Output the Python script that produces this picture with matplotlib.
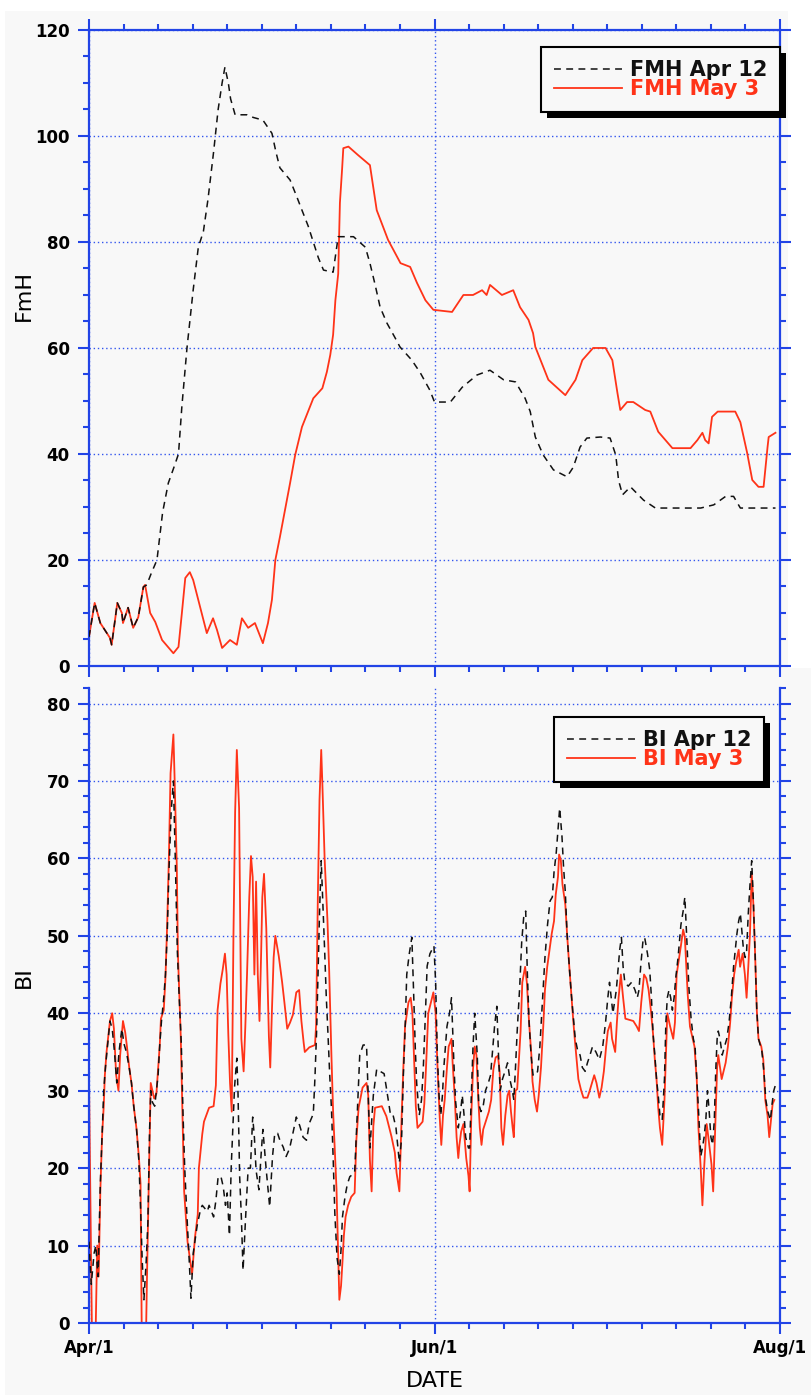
import numpy as np
import matplotlib
matplotlib.use("Agg")
import matplotlib.pyplot as plt
from matplotlib.patches import Rectangle
from matplotlib.ticker import MultipleLocator, FixedLocator
from matplotlib.transforms import IdentityTransform

# x = days since Apr 1
date_ticks = [0, 61, 122]
date_labels = ["Apr/1", "Jun/1", "Aug/1"]

# fine moisture (FmH), two model runs: (day, value)
fmh_apr12 = np.array([
    (0, 5.5), (1, 11.9), (2, 8.1), (3.7, 5.3), (4, 4.0), (4.6, 8.7), (5, 11.9),
    (5.8, 10.0), (6, 8.1), (6.9, 11.0), (7.8, 7.2), (8.7, 9.2), (9.6, 14.9),
    (10.2, 15.3), (11, 17.5), (12, 20), (13, 29), (14, 34.5), (15, 37.5),
    (15.8, 40), (16.4, 49), (17.3, 60), (18.4, 71), (19.3, 79), (20.2, 82),
    (21, 88), (22, 97), (22.8, 105), (23.5, 110), (24, 113), (24.6, 110),
    (25, 107), (25.8, 104), (27.9, 104), (29, 103.5), (30.7, 103), (32.3, 100.5),
    (33, 97), (33.7, 94), (35.5, 91.7), (36.7, 88.5), (37.6, 86), (38.7, 83),
    (39.6, 80), (40.5, 77), (41.4, 74.7), (43.1, 74.3), (44, 81), (46.7, 81),
    (48.8, 79), (49.6, 76), (50.5, 72), (51.4, 67.7), (52.6, 64.7), (54, 62),
    (54.9, 60.2), (57, 57.7), (58.5, 55.3), (60.2, 52), (61, 49.8), (63.8, 49.8),
    (65.9, 52.6), (68.5, 54.9), (70.8, 55.8), (73.2, 54), (75.3, 53.6), (77, 50.5),
    (77.9, 48), (78.8, 43.2), (80.2, 39.8), (82, 37), (84.4, 35.7), (85.5, 37.5),
    (86.7, 41.3), (87.9, 43), (90.3, 43.2), (92, 43), (93, 39.8), (93.5, 35),
    (94.2, 32.3), (95.6, 33.8), (97.9, 31.3), (100, 29.8), (108, 29.8),
    (110.3, 30.4), (112.4, 32), (113.8, 32), (115, 29.8), (121.2, 29.8),
])

fmh_may3 = np.array([
    (0, 5.5), (1, 11.9), (2, 8.1), (3.7, 5.3), (4, 4.0), (4.6, 8.7), (5, 11.9),
    (5.8, 10.0), (6, 8.1), (6.9, 11.0), (7.8, 7.2), (8.7, 9.2), (9.6, 14.9),
    (9.9, 15.3), (10.8, 10), (11.7, 8.3), (12.9, 4.9), (14.9, 2.4), (15.8, 3.6),
    (16.4, 10), (17, 16.6), (17.8, 17.7), (18.4, 16.2), (19.6, 11.2), (20.8, 6.2),
    (21.9, 9), (22.6, 6.8), (23.5, 3.4), (24.9, 4.9), (26.1, 4), (27, 9),
    (28.1, 7.2), (29.3, 8.1), (30.7, 4.3), (31.6, 8.1), (32.3, 12.5), (32.9, 20),
    (33.7, 24.3), (34.6, 29.4), (35.5, 34.5), (36.4, 39.8), (37.6, 45.1),
    (39.6, 50.5), (41.2, 52.4), (42, 55.5), (42.6, 58.7), (43.1, 62.5), (43.5, 69),
    (44, 74), (44.3, 87.4), (44.7, 94), (44.9, 97.7), (45.8, 98), (47.5, 96.4),
    (49.6, 94.5), (50.8, 86), (52.8, 80.4), (55, 76), (56.7, 75.3), (57.9, 72.3),
    (59.4, 69), (60.8, 67.2), (64.1, 66.8), (66.1, 70), (67.8, 70), (69.4, 70.9),
    (70.2, 70), (70.8, 71.9), (72.9, 70), (74.9, 70.9), (76.1, 67.7), (77.6, 65.3),
    (78.4, 62.8), (78.8, 60.2), (81.1, 54), (84.1, 51.1), (85.9, 54), (87.1, 57.7),
    (89, 60), (91.2, 60), (92.4, 57.7), (93.3, 51.5), (93.8, 48.3), (95, 49.8),
    (96.1, 49.8), (98.2, 48.3), (99.1, 48), (100.5, 44.2), (103, 41.1),
    (106.2, 41.1), (107.4, 42.6), (108.3, 44), (108.8, 42.6), (109.4, 42),
    (110, 47), (111, 48), (114.1, 48), (115, 46), (116.2, 40.2), (117.1, 35.1),
    (118.2, 33.8), (119.1, 33.8), (119.8, 41.3), (120, 43.2), (121.2, 44),
])

# burning index (BI), two model runs: (day, value)
bi_apr12 = np.array([
    (0, 10.5), (0.4, 5), (0.9, 9), (1.2, 10), (1.6, 6), (2.0, 18), (2.3, 24),
    (2.6, 30), (2.9, 33), (3.3, 36), (3.7, 39), (4.1, 38), (4.5, 35), (4.9, 31),
    (5.3, 35), (5.8, 38), (6.2, 36), (6.6, 35), (7.1, 33), (7.5, 31), (7.9, 28),
    (8.4, 25), (8.8, 21), (9.1, 15), (9.4, 8), (9.7, 3), (10.1, 8), (10.4, 13),
    (10.7, 25), (10.9, 30), (11.2, 28.5), (11.6, 28), (11.9, 30), (12.2, 32),
    (12.5, 36), (12.8, 39), (13.2, 42), (13.5, 45), (13.8, 50), (14.1, 58),
    (14.5, 66), (14.9, 70), (15.2, 61), (15.6, 48), (15.9, 42.5), (16.3, 36),
    (16.6, 27), (16.9, 20), (17.3, 13.7), (17.7, 8), (18.0, 3.2), (18.4, 9),
    (19.1, 12.6), (19.7, 14.7), (20.0, 15.2), (20.9, 14.4), (21.2, 15.2),
    (22.0, 13.7), (22.4, 15.8), (22.8, 18.9), (23.3, 18.9), (23.7, 17.6),
    (24.1, 15.2), (24.4, 16.8), (24.8, 11.3), (25.1, 20), (25.4, 25.3),
    (25.7, 30.5), (26.1, 34.2), (26.3, 30), (26.6, 18.9), (26.9, 13.7),
    (27.2, 6.8), (27.6, 12.9), (28.1, 20), (28.5, 20), (28.9, 26.6), (29.2, 24),
    (29.5, 19.7), (30.0, 17.2), (30.4, 21.9), (30.7, 25), (31.3, 19.7),
    (31.9, 15), (32.4, 21.5), (32.8, 24.5), (33.3, 24.5), (33.7, 23.6),
    (34.3, 22.7), (34.8, 21.5), (35.4, 22.5), (36.0, 24.5), (36.6, 26.6),
    (37.2, 25.5), (37.8, 24), (38.4, 23.6), (38.9, 25.8), (39.6, 27), (39.9, 31.8),
    (40.2, 38), (40.4, 44), (40.7, 53), (41.0, 59.7), (41.3, 54), (41.6, 48.2),
    (41.9, 42), (42.2, 37.2), (42.5, 32), (42.8, 27.8), (43.1, 21.5), (43.4, 14.2),
    (43.8, 8.4), (44.2, 6.3), (44.5, 9.5), (44.75, 13.7), (45.2, 16.3),
    (45.6, 17.9), (46.05, 18.9), (46.9, 19.4), (47.35, 26.8), (47.8, 34.6),
    (48.4, 35.9), (49.0, 35.9), (49.3, 29.4), (49.6, 22.6), (50.2, 29.4),
    (50.8, 32.8), (51.4, 32.5), (52.1, 32.2), (52.5, 30.4), (53.25, 26.8),
    (53.7, 26.8), (54.2, 25.2), (54.8, 20.7), (55.2, 24), (55.5, 32), (55.8, 37.7),
    (56.1, 45), (56.55, 47.7), (57.0, 49.8), (57.3, 43), (57.6, 35.7), (57.85, 31),
    (58.3, 26.8), (58.7, 28.8), (59.0, 32.5), (59.4, 40), (59.7, 46.1),
    (60.2, 47.7), (60.9, 48.7), (61.2, 44), (61.5, 34.6), (61.8, 29.4),
    (62.1, 26.8), (62.4, 29.4), (62.65, 33), (63.2, 38.3), (63.65, 40), (64.0, 42),
    (64.2, 38), (64.4, 34), (64.7, 28.8), (65.2, 25.2), (65.6, 27.3), (65.9, 29.4),
    (66.2, 27), (66.5, 24), (67.0, 22.6), (67.2, 22.6), (67.5, 29.4), (67.8, 35.7),
    (68.1, 40), (68.55, 34.6), (68.8, 28.3), (69.2, 27.3), (69.55, 27.8),
    (70.0, 30), (70.5, 31), (70.9, 32), (71.3, 35.7), (71.6, 38.3), (72.0, 40.9),
    (72.3, 34.6), (72.6, 30), (73.0, 31.5), (73.45, 32.5), (73.9, 33.6),
    (74.3, 31.5), (74.75, 30), (75.0, 28.8), (75.3, 33), (75.6, 37.7),
    (76.05, 43.5), (76.4, 49.3), (76.75, 52.4), (77.1, 53.2), (77.4, 45),
    (77.7, 38.8), (78.05, 34.6), (78.4, 32), (78.9, 32), (79.2, 32.5), (79.6, 35.7),
    (80.1, 42), (80.5, 47.2), (80.95, 51.4), (81.4, 54.5), (81.8, 55), (82.1, 58.2),
    (82.5, 60.8), (82.9, 64.5), (83.1, 66.5), (83.5, 62.9), (83.8, 58.7),
    (84.1, 55.6), (84.4, 50.3), (84.8, 46), (85.1, 43), (85.4, 40.4), (85.85, 36.7),
    (86.3, 35.1), (86.7, 34.6), (87.1, 33), (87.6, 32.5), (88.0, 33.6),
    (88.45, 34.6), (88.9, 35.7), (89.5, 35), (90.1, 34), (90.7, 35.7), (91.2, 38.8),
    (91.6, 42), (91.9, 44), (92.5, 40), (93.1, 43), (93.7, 48.2), (94.0, 49.8),
    (94.3, 46), (94.6, 44), (95.2, 43.5), (95.8, 44), (96.4, 43), (96.8, 42),
    (97.1, 43), (97.4, 46), (97.8, 49.3), (98.1, 49.8), (98.6, 47.7), (99.0, 45.6),
    (99.3, 42), (99.6, 37.2), (99.9, 34.6), (100.2, 31.5), (100.5, 29.4),
    (100.8, 26.8), (101.2, 26.2), (101.6, 31.5), (101.85, 38.8), (102.1, 42),
    (102.4, 43), (102.7, 42), (103.0, 40.4), (103.3, 42), (103.6, 44.6),
    (104.0, 47.2), (104.5, 51.4), (104.9, 53.2), (105.2, 55), (105.5, 50.3),
    (105.9, 43.5), (106.3, 39.3), (106.7, 36.7), (107.0, 35.7), (107.4, 30.4),
    (107.7, 26.2), (108.0, 21.5), (108.3, 22.6), (108.6, 24), (108.9, 26.2),
    (109.2, 30), (109.5, 27.3), (109.8, 24), (110.1, 23), (110.4, 26.2),
    (110.65, 32.5), (110.9, 36.7), (111.1, 37.7), (111.4, 36.7), (111.8, 34.6),
    (112.2, 35.7), (112.6, 36.7), (113.0, 38.8), (113.4, 42), (113.8, 46),
    (114.1, 48.2), (114.4, 50.3), (114.7, 51.9), (115.0, 52.9), (115.3, 50.3),
    (115.55, 48.2), (115.85, 47.2), (116.1, 48), (116.4, 52.9), (116.7, 56.6),
    (117.0, 59.7), (117.3, 54.5), (117.6, 47.7), (117.9, 40.4), (118.2, 36.7),
    (118.8, 35.1), (119.15, 32.5), (119.5, 28.8), (119.85, 27.3), (120.3, 26.2),
    (120.6, 28.3), (120.9, 30), (121.3, 31),
])

bi_may3 = np.array([
    (0, 31.5), (0.5, 0), (1.2, 0), (1.45, 10), (1.7, 6), (2.0, 17), (2.3, 24),
    (2.6, 28), (2.8, 32), (3.1, 35), (3.4, 37), (3.7, 39), (4.1, 40), (4.4, 38),
    (4.8, 32), (5.2, 30), (5.5, 34.6), (6.0, 39), (6.4, 37.5), (6.7, 35.7),
    (7.1, 33), (7.5, 31), (7.9, 28), (8.4, 25), (8.8, 21.5), (9.1, 18), (9.3, 0),
    (10.1, 0), (10.3, 8.4), (10.9, 31), (11.2, 30), (11.5, 29), (11.9, 29.6),
    (12.2, 32.8), (12.5, 36), (12.7, 39.3), (13.2, 40.4), (13.5, 44.6),
    (13.8, 51.4), (14.1, 60), (14.4, 71), (14.9, 76), (15.1, 70.7), (15.5, 59),
    (15.7, 47.7), (16.2, 37), (16.5, 27), (16.8, 17), (17.4, 10.5), (17.9, 7.9),
    (18.2, 6.3), (18.7, 11), (19.2, 14), (19.4, 20), (20.0, 24.4), (20.3, 26),
    (20.8, 27), (21.2, 27.8), (22.0, 28), (22.4, 30.7), (22.7, 40.4), (23.2, 43.8),
    (23.6, 45.6), (24.0, 47.7), (24.3, 45), (24.6, 37.2), (24.9, 31), (25.2, 27.3),
    (25.5, 49.8), (25.8, 66), (26.1, 74), (26.5, 66.5), (26.7, 51.6), (26.9, 36.7),
    (27.3, 32.5), (27.6, 38.3), (27.9, 45), (28.3, 55), (28.6, 60.3), (28.9, 57.6),
    (29.2, 45), (29.5, 57), (29.8, 45), (30.1, 39), (30.4, 48), (30.6, 55),
    (30.9, 58), (31.3, 51), (31.76, 37), (32.0, 33), (32.3, 40.4), (32.6, 47.2),
    (32.9, 50), (33.5, 47.4), (34.1, 44), (34.5, 41.4), (35.0, 38), (35.5, 38.8),
    (36.0, 39.8), (36.6, 42.7), (37.1, 43), (37.5, 39), (37.9, 36.2), (38.1, 35),
    (38.9, 35.6), (39.9, 35.9), (40.1, 38.5), (40.4, 54.8), (40.7, 67.6),
    (41.0, 74), (41.2, 69.7), (41.6, 60), (42.1, 52), (42.4, 45.6), (42.8, 34.6),
    (43.1, 27.3), (43.7, 17.3), (44.2, 3), (44.5, 4.8), (44.75, 7.9), (45.0, 11.3),
    (45.3, 13.7), (45.75, 15.2), (46.3, 16.3), (46.9, 16.8), (47.2, 23.6),
    (47.6, 27.8), (48.3, 30.4), (49.0, 31), (49.3, 29.4), (49.6, 21), (49.9, 17),
    (50.2, 25.4), (50.5, 27.8), (51.7, 28), (52.5, 26.7), (53.4, 24.1), (54.0, 22),
    (54.3, 19.4), (54.8, 17), (55.2, 26.7), (55.5, 33), (55.8, 38.3), (56.4, 41.4),
    (56.8, 42), (57.1, 40), (57.4, 34), (57.7, 28), (58.0, 25.2), (58.9, 26),
    (59.2, 28.3), (59.5, 33), (59.9, 40), (60.8, 42.7), (61.2, 40), (61.5, 33.6),
    (61.9, 26.8), (62.2, 23), (62.5, 26.8), (62.8, 28.8), (63.2, 33), (63.5, 35.7),
    (64.0, 36.7), (64.2, 33.6), (64.6, 28.8), (64.9, 24), (65.2, 21.3), (65.4, 23),
    (65.7, 24.7), (66.1, 25.7), (66.6, 21.3), (67.0, 19), (67.2, 17), (67.5, 26.8),
    (67.8, 32.8), (68.1, 35.7), (68.4, 34.6), (68.7, 29.4), (69.0, 25.2),
    (69.3, 23), (69.6, 25), (70.6, 27.3), (71.0, 28.8), (71.4, 32.8), (71.8, 34.3),
    (72.2, 34.5), (72.5, 32.5), (72.8, 25.2), (73.1, 23), (73.5, 26.8),
    (73.9, 29.4), (74.2, 30), (74.5, 27.3), (74.8, 25.2), (75.0, 24), (75.3, 30),
    (75.6, 30.2), (75.9, 34), (76.2, 37.7), (76.5, 44), (77.0, 46), (77.3, 44),
    (77.7, 38.8), (78.1, 34.6), (78.3, 31.2), (78.7, 28.8), (79.1, 27.3),
    (79.4, 29.4), (79.8, 33), (80.2, 38.3), (80.5, 43), (80.9, 46), (81.4, 48.7),
    (81.7, 50.3), (82.1, 51.9), (82.4, 55.3), (82.8, 57.6), (83.0, 60.5),
    (83.3, 59.8), (83.6, 56.6), (84.1, 54), (84.4, 50.3), (84.8, 46), (85.1, 43),
    (85.4, 40), (85.7, 37.2), (86.1, 34), (86.4, 31.5), (86.9, 30), (87.3, 29.1),
    (88.0, 29.1), (88.4, 30), (88.8, 31), (89.2, 32), (89.6, 31), (90.1, 29.1),
    (90.5, 30.4), (90.9, 32.5), (91.3, 35.7), (91.6, 37.7), (92.1, 38.8),
    (92.35, 36.7), (92.9, 35), (93.2, 38.8), (93.5, 42), (93.9, 45), (94.3, 42),
    (94.7, 39.3), (96.1, 39), (96.7, 38.3), (97.1, 37.7), (97.5, 41.4), (98.0, 45),
    (98.4, 44.5), (98.8, 43), (99.2, 40.4), (99.6, 37.2), (99.9, 34), (100.2, 31.5),
    (100.5, 27.8), (100.8, 25.2), (101.2, 23), (101.6, 28.8), (101.85, 34.6),
    (102.1, 40), (102.6, 38.3), (103.15, 36.7), (103.45, 38.8), (103.75, 45),
    (104.5, 48.7), (104.9, 50.8), (105.2, 49.8), (105.7, 42.5), (106.1, 38.3),
    (106.9, 35.7), (107.3, 31.5), (107.6, 25.2), (108.0, 20), (108.3, 15.2),
    (108.6, 20), (109.05, 25.7), (109.35, 24), (109.9, 20.5), (110.2, 17),
    (110.5, 24), (110.9, 33), (111.1, 34.6), (111.7, 31.5), (112.4, 33.6),
    (112.8, 35.7), (113.2, 38.8), (113.5, 42), (113.9, 45), (114.25, 46.6),
    (114.7, 48.2), (114.95, 46), (115.4, 47.7), (115.8, 45), (116.1, 42),
    (116.4, 46), (116.7, 50.3), (117.0, 58.2), (117.3, 54), (117.6, 47.7),
    (117.9, 40.4), (118.2, 36.7), (118.7, 35.7), (119.05, 34), (119.4, 28.8),
    (119.8, 26.8), (120.1, 24), (120.4, 26.2), (120.7, 28.3), (121.0, 28.8),
])

BG = "#f8f8f8"
BLUE = "#2244e6"
GRID = "#3355ee"
RED = "#ff3318"
BLACK = "#111111"
DASH = (0, (4.5, 3.5))

plt.rcParams["font.family"] = ["DejaVu Sans"]
plt.rcParams["font.weight"] = "bold"

fig = plt.figure(figsize=(8.12, 13.95), dpi=100, facecolor="white")

# light panel backgrounds behind each chart
fig.add_artist(Rectangle((5 / 812, 1 - 668 / 1395), 783 / 812, 657 / 1395,
                         transform=fig.transFigure, facecolor=BG,
                         edgecolor="none", zorder=-2))
fig.add_artist(Rectangle((5 / 812, 0), 807 / 812, 1 - 668 / 1395,
                         transform=fig.transFigure, facecolor=BG,
                         edgecolor="none", zorder=-2))

ax1 = fig.add_axes([0.1096, 0.5226, 0.851, 0.4559], facecolor=BG)
ax2 = fig.add_axes([0.1096, 0.0516, 0.851, 0.4552], facecolor=BG)


def style_axes(ax, ymax, ymajor, yminor, top_spine):
    ax.set_xlim(0, 122)
    ax.set_ylim(0, ymax)
    ax.xaxis.set_major_locator(FixedLocator(date_ticks))
    ax.xaxis.set_minor_locator(MultipleLocator(6.1))
    ax.yaxis.set_major_locator(MultipleLocator(ymajor))
    ax.yaxis.set_minor_locator(MultipleLocator(yminor))
    for sp in ax.spines.values():
        sp.set_color(BLUE)
        sp.set_linewidth(1.6)
    ax.spines["top"].set_visible(top_spine)
    ax.tick_params(which="major", direction="out", length=8, width=1.5,
                   color=BLUE, labelsize=12, pad=6)
    ax.tick_params(which="minor", direction="out", length=4.5, width=1.5,
                   color=BLUE)
    ax.tick_params(axis="x", which="both", top=top_spine, bottom=True,
                   labeltop=False)
    ax.tick_params(axis="y", which="both", left=True, right=True,
                   labelright=False)
    ax.tick_params(axis="x", which="major", pad=3.5)
    ax.grid(True, which="major", color=GRID, linestyle=(0, (1, 2)),
            linewidth=1.0)
    ax.set_axisbelow(True)


def add_legend(ax, labels, anchor):
    leg = ax.legend(labels=labels, handles=ax.get_lines(),
                    loc="upper right", bbox_to_anchor=anchor,
                    borderaxespad=0, fontsize=15, handlelength=3.3,
                    handletextpad=0.35, labelspacing=-0.05, borderpad=0.62,
                    fancybox=False, framealpha=1)
    fr = leg.get_frame()
    fr.set_facecolor(BG)
    fr.set_edgecolor("black")
    fr.set_linewidth(1.5)
    for txt, col in zip(leg.get_texts(), [BLACK, RED]):
        txt.set_color(col)
    return leg


def add_shadow(ax, leg, off=6):
    fig.canvas.draw()
    bb = leg.get_frame().get_window_extent()
    ax.add_patch(Rectangle((bb.x0 + off, bb.y0 - off), bb.width, bb.height,
                           transform=IdentityTransform(), facecolor="black",
                           edgecolor="none", zorder=4.9, clip_on=False))


# FmH panel
style_axes(ax1, 120, 20, 5, True)
ax1.tick_params(axis="x", which="both", labelbottom=False)
ax1.plot(fmh_apr12[:, 0], fmh_apr12[:, 1], color=BLACK, lw=1.1,
         linestyle=DASH, zorder=3)
ax1.plot(fmh_may3[:, 0], fmh_may3[:, 1], color=RED, lw=1.3, zorder=2)
ax1.set_ylabel("FmH", fontsize=16, fontweight="normal", va="center")
ax1.yaxis.set_label_coords(-0.094, 0.582)
leg1 = add_legend(ax1, ["FMH Apr 12", "FMH May 3"], (1.0, 0.973))

# BI panel
style_axes(ax2, 82, 10, 2, False)
ax2.set_xticks(date_ticks, labels=date_labels)
ax2.plot(bi_apr12[:, 0], bi_apr12[:, 1], color=BLACK, lw=1.1,
         linestyle=DASH, zorder=3)
ax2.plot(bi_may3[:, 0], bi_may3[:, 1], color=RED, lw=1.3, zorder=2)
ax2.set_ylabel("BI", fontsize=16, fontweight="normal", va="center")
ax2.yaxis.set_label_coords(-0.094, 0.545)
ax2.set_xlabel("DATE", fontsize=16, fontweight="normal", va="center")
ax2.xaxis.set_label_coords(0.5, -0.091)
leg2 = add_legend(ax2, ["BI Apr 12", "BI May 3"], (0.977, 0.954))

add_shadow(ax1, leg1)
add_shadow(ax2, leg2)

fig.savefig("out.png", dpi=100, facecolor="white")
